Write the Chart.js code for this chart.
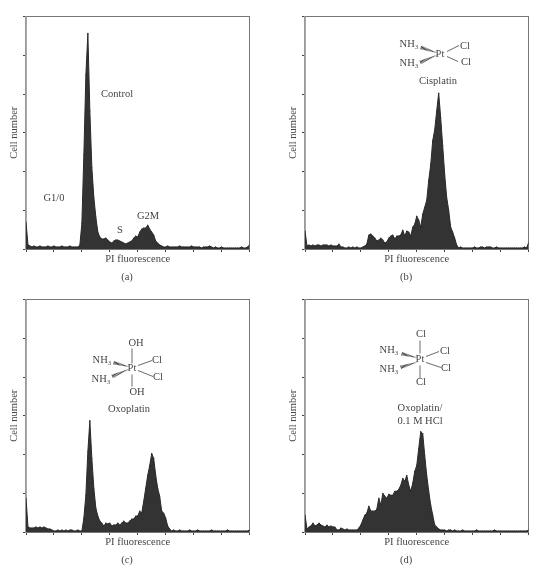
<!DOCTYPE html>
<html>
<head>
<meta charset="utf-8">
<title>PI fluorescence histograms</title>
<script src="https://cdn.jsdelivr.net/npm/chart.js@4/dist/chart.umd.min.js"></script>
<style>
    html, body { margin: 0; padding: 0; background: #fff; overflow: hidden; }
    body { width: 555px; height: 571px; position: relative; }
    canvas { position: absolute; }
</style>
</head>
<body>
<canvas id="panelA" width="278" height="288" style="left:-2px;top:0"></canvas>
<canvas id="panelB" width="278" height="288" style="left:277px;top:0"></canvas>
<canvas id="panelC" width="278" height="288" style="left:-2px;top:283px"></canvas>
<canvas id="panelD" width="278" height="288" style="left:277px;top:283px"></canvas>
<script>
// cell counts per fluorescence channel (arbitrary units)
const controlValues = [
    27, 4, 3, 2, 3, 2, 2, 3, 2, 2,
    2, 3, 2, 2, 3, 2, 2, 2, 3, 2,
    2, 2, 3, 2, 2, 2, 2, 4, 26, 95,
    175, 217, 139, 82, 52, 32, 17, 12, 10, 10,
    11, 9, 7, 6, 8, 9, 9, 8, 7, 6,
    5, 6, 7, 8, 11, 13, 12, 17, 20, 21,
    21, 24, 20, 17, 14, 8, 6, 4, 3, 2,
    2, 3, 2, 2, 2, 2, 2, 3, 2, 2,
    2, 2, 2, 3, 2, 2, 2, 2, 1, 2,
    2, 2, 3, 2, 1, 2, 1, 1, 2, 1,
    1, 1, 1, 1, 1, 1, 1, 1, 2, 1,
    1, 2, 4
];
const cisplatinValues = [
    18, 3, 4, 3, 4, 3, 4, 4, 3, 4,
    4, 4, 3, 4, 3, 3, 3, 5, 2, 2,
    1, 1, 2, 1, 2, 1, 2, 1, 1, 2,
    3, 5, 14, 15, 13, 11, 8, 9, 11, 9,
    6, 7, 11, 13, 14, 10, 13, 13, 14, 19,
    13, 18, 17, 13, 22, 25, 33, 29, 22, 35,
    42, 49, 69, 85, 109, 120, 139, 157, 132, 104,
    75, 52, 39, 22, 17, 11, 4, 1, 2, 1,
    1, 1, 1, 1, 1, 2, 1, 1, 2, 2,
    1, 2, 2, 2, 1, 1, 2, 1, 1, 1,
    1, 1, 1, 1, 1, 1, 1, 1, 1, 1,
    2, 1, 6
];
const oxoplatinValues = [
    34, 5, 4, 4, 4, 5, 4, 5, 4, 5,
    4, 3, 3, 2, 1, 1, 2, 1, 2, 1,
    2, 1, 2, 2, 1, 1, 2, 1, 1, 14,
    37, 81, 112, 74, 44, 24, 16, 11, 9, 6,
    9, 8, 9, 6, 7, 7, 9, 7, 9, 11,
    9, 9, 11, 13, 13, 16, 16, 21, 19, 31,
    44, 57, 67, 79, 74, 57, 44, 36, 21, 19,
    14, 6, 3, 1, 2, 1, 1, 2, 1, 1,
    1, 1, 2, 1, 1, 1, 2, 1, 1, 1,
    1, 1, 1, 2, 1, 1, 1, 1, 1, 1,
    1, 2, 1, 1, 1, 1, 1, 1, 1, 1,
    1, 1, 2
];
const oxoplatinHclValues = [
    17, 3, 5, 6, 9, 6, 7, 9, 7, 6,
    5, 7, 5, 6, 5, 5, 2, 2, 4, 3,
    2, 3, 2, 2, 2, 2, 2, 4, 7, 12,
    17, 19, 26, 21, 21, 21, 23, 34, 27, 39,
    36, 34, 38, 37, 37, 41, 41, 43, 47, 54,
    51, 57, 47, 41, 49, 61, 67, 84, 101, 99,
    77, 57, 41, 27, 17, 7, 5, 3, 2, 2,
    2, 1, 2, 2, 1, 2, 1, 1, 1, 2,
    1, 1, 1, 1, 1, 1, 2, 1, 1, 1,
    1, 1, 1, 1, 1, 2, 1, 1, 1, 1,
    1, 1, 1, 1, 1, 1, 1, 1, 1, 1,
    1, 1, 2
];

const xTitle = 'PI fluorescence';
const yTitle = 'Cell number';
const channelStep = 2;
const xMax = 224;
const xTickStep = 28;
const yMax = 234;
const yTickStep = 39;

const textColor = '#444';
const serif = '"Liberation Serif", serif';

// labels and structure drawings, offsets from the plot's top left corner
const panelNotes = {
    panelA: {
        texts: [['Control', 91, 78], ['G1/0', 28, 182], ['S', 94, 214], ['G2M', 122, 200], ['(a)', 101, 260.5]],
        bonds: [],
        wedges: []
    },
    panelB: {
        texts: [['NH₃', 104, 28], ['Pt', 135, 38], ['Cl', 160, 30], ['NH₃', 104, 47], ['Cl', 161, 46],
                ['Cisplatin', 133, 65], ['(b)', 101, 261]],
        bonds: [[142, 35, 154, 29], [142, 40, 153, 45]],
        wedges: [[131, 36, 116, 31], [131, 39, 115, 46]]
    },
    panelC: {
        texts: [['OH', 110, 44], ['Pt', 106, 69], ['NH₃', 76, 61], ['NH₃', 75, 80], ['Cl', 131, 61], ['Cl', 132, 78],
                ['OH', 111, 93], ['Oxoplatin', 103, 110], ['(c)', 101, 261]],
        bonds: [[106, 49, 106, 64], [106, 75, 106, 87], [112, 66, 126, 61], [112, 71, 127, 77]],
        wedges: [[102, 67, 87, 63], [102, 70, 86, 77]]
    },
    panelD: {
        texts: [['Cl', 116, 35], ['Pt', 115, 60], ['Cl', 116, 83], ['NH₃', 84, 51], ['NH₃', 84, 70], ['Cl', 140, 52],
                ['Cl', 141, 69], ['Oxoplatin/', 115, 109], ['0.1 M HCl', 115, 122], ['(d)', 101, 261]],
        bonds: [[115, 41, 115, 54], [115, 66, 115, 79], [121, 57, 134, 52], [121, 63, 136, 68]],
        wedges: [[111, 58, 96, 54], [111, 63, 95, 68]]
    }
};

const panelPlugin = {
    id: 'panelNotes',
    beforeDraw(chart) {
        const { ctx, chartArea: area } = chart;
        ctx.save();
        ctx.strokeStyle = '#777';
        ctx.lineWidth = 1;
        ctx.strokeRect(area.left, area.top, area.right - area.left, area.bottom - area.top);
        ctx.restore();
    },
    afterDraw(chart) {
        const { ctx, chartArea: area } = chart;
        const notes = panelNotes[chart.canvas.id];
        ctx.save();
        ctx.translate(area.left, area.top);
        ctx.fillStyle = textColor;
        ctx.strokeStyle = textColor;
        ctx.font = '10.5px ' + serif;
        ctx.textAlign = 'center';
        ctx.textBaseline = 'middle';
        notes.texts.forEach(([text, x, y]) => ctx.fillText(text, x, y));

        ctx.lineWidth = 0.8;
        notes.bonds.forEach(([x1, y1, x2, y2]) => {
            ctx.beginPath();
            ctx.moveTo(x1, y1);
            ctx.lineTo(x2, y2);
            ctx.stroke();
        });
        // hashed wedges, narrow at the Pt end
        ctx.lineWidth = 1;
        notes.wedges.forEach(([x1, y1, x2, y2]) => {
            const len = Math.hypot(x2 - x1, y2 - y1);
            const nx = -(y2 - y1) / len;
            const ny = (x2 - x1) / len;
            for (let s = 0; s <= len; s += 1.2) {
                const px = x1 + (x2 - x1) * s / len;
                const py = y1 + (y2 - y1) * s / len;
                const half = 0.3 + 1.5 * s / len;
                ctx.beginPath();
                ctx.moveTo(px - nx * half, py - ny * half);
                ctx.lineTo(px + nx * half, py + ny * half);
                ctx.stroke();
            }
        });
        ctx.restore();
    }
};

function drawPanel(id, values) {
    new Chart(document.getElementById(id), {
        type: 'line',
        data: {
            datasets: [{
                data: values.map((v, i) => ({ x: i * channelStep, y: v })),
                borderColor: '#2a2a2a',
                backgroundColor: '#333',
                borderWidth: 1,
                fill: 'origin',
                tension: 0,
                pointRadius: 0.6,
                pointBackgroundColor: '#2a2a2a',
                pointBorderWidth: 0
            }]
        },
        plugins: [panelPlugin],
        options: {
            responsive: false,
            animation: false,
            layout: { padding: { top: 16.5, right: 26.5, bottom: 16.5, left: 0 } },
            plugins: { legend: { display: false }, tooltip: { enabled: false } },
            scales: {
                x: {
                    type: 'linear',
                    min: 0,
                    max: xMax,
                    afterFit(scale) { scale.height = 22.5; },
                    ticks: { display: false, stepSize: xTickStep },
                    grid: { drawOnChartArea: false, tickLength: 3, tickColor: '#444' },
                    border: { color: '#777' },
                    title: {
                        display: true,
                        text: xTitle,
                        color: textColor,
                        font: { family: serif, size: 10.5 },
                        padding: { top: 0, bottom: 6 }
                    }
                },
                y: {
                    min: 0,
                    max: yMax,
                    afterFit(scale) { scale.width = 28; },
                    ticks: { display: false, stepSize: yTickStep },
                    grid: { drawOnChartArea: false, tickLength: 3, tickColor: '#444' },
                    border: { color: '#999', width: 1.5 },
                    title: {
                        display: true,
                        text: yTitle,
                        color: textColor,
                        font: { family: serif, size: 10.5 },
                        padding: { top: 10, bottom: 0 }
                    }
                }
            }
        }
    });
}

drawPanel('panelA', controlValues);
drawPanel('panelB', cisplatinValues);
drawPanel('panelC', oxoplatinValues);
drawPanel('panelD', oxoplatinHclValues);
</script>
</body>
</html>
